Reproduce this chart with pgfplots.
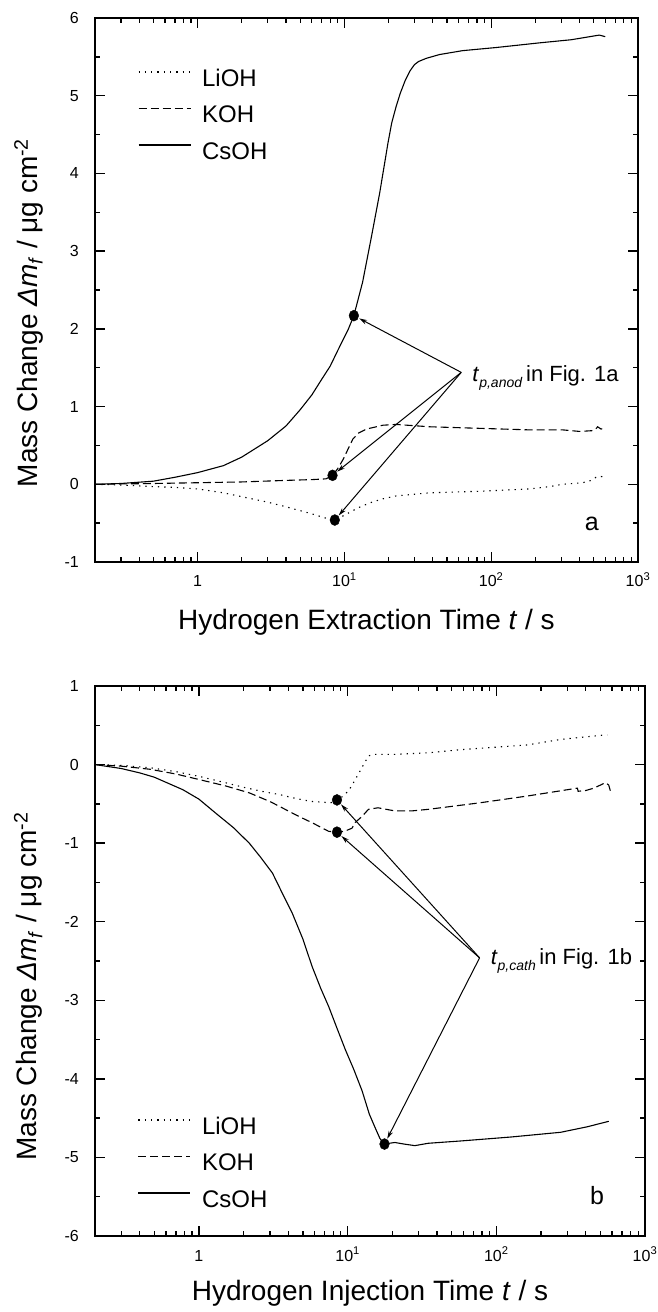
\documentclass[border=0pt]{standalone}
\usepackage{fontspec}
\setmainfont{Liberation Sans}
\usepackage{pgfplots}
\pgfplotsset{compat=1.18}
\usetikzlibrary{arrows.meta}
\newcommand{\fs}[1]{\fontsize{#1}{#1}\selectfont}

% ---------- data: panel a (hydrogen extraction) ----------
\pgfplotstableread{
t v
0.2 0
0.3 -0.01
0.5 -0.03
0.7 -0.04
1 -0.06
1.5 -0.11
2 -0.16
3 -0.23
4 -0.29
5 -0.34
6 -0.38
7 -0.42
8 -0.45
8.6 -0.46
9.5 -0.42
10.9 -0.36
12.5 -0.30
14.9 -0.24
18 -0.19
22.5 -0.15
38 -0.11
83 -0.09
182 -0.06
250 -0.03
307 0.0
420 0.02
480 0.05
518 0.09
560 0.10
590 0.09
605 0.07
}\aLiOH
\pgfplotstableread{
t v
0.2 0
0.5 0.01
1 0.02
2 0.03
4 0.05
6 0.06
7.5 0.07
8.3 0.115
9 0.2
9.8 0.32
11.4 0.58
12.5 0.66
14.1 0.71
18.3 0.76
22.5 0.77
38 0.74
83 0.72
182 0.70
307 0.70
400 0.68
491 0.69
520 0.72
531 0.74
560 0.71
598 0.73
}\aKOH
\pgfplotstableread{
t v
0.2 0
0.3 0.01
0.5 0.04
0.7 0.09
1 0.15
1.5 0.24
2 0.35
3 0.56
4 0.75
5 0.96
6 1.15
7 1.35
8 1.52
9 1.72
10.6 1.99
11.6 2.17
13.3 2.6
15.3 3.19
17.4 3.75
19.8 4.39
21 4.65
22.5 4.86
24 5.03
26 5.20
28 5.32
30 5.40
32 5.44
36 5.48
44.5 5.53
64 5.58
108 5.62
213 5.68
350 5.72
545 5.78
598 5.76
}\aCsOH

% ---------- data: panel b (hydrogen injection) ----------
\pgfplotstableread{
t v
0.2 0
0.3 -0.01
0.47 -0.04
0.7 -0.09
1.0 -0.15
1.5 -0.23
2 -0.29
2.8 -0.35
3.46 -0.38
4 -0.41
5 -0.45
5.77 -0.47
7 -0.48
7.46 -0.49
8.48 -0.47
9.3 -0.40
10.2 -0.33
11.9 -0.11
13.8 0.11
14.9 0.13
20.8 0.13
35 0.15
58 0.19
162 0.25
271 0.32
557 0.38
}\bLiOH
\pgfplotstableread{
t v
0.2 0
0.3 -0.02
0.47 -0.06
0.7 -0.12
1.0 -0.19
1.5 -0.27
2.18 -0.36
3 -0.47
3.46 -0.53
4.7 -0.66
5.77 -0.74
7.46 -0.85
8.48 -0.86
9.5 -0.85
10.7 -0.81
11.2 -0.74
12.5 -0.66
13.8 -0.57
16 -0.55
20.8 -0.59
26.9 -0.59
34.8 -0.57
75.2 -0.49
162 -0.40
351 -0.30
355 -0.34
400 -0.33
453 -0.30
543 -0.23
570 -0.26
590 -0.36
}\bKOH
\pgfplotstableread{
t v
0.2 0
0.3 -0.05
0.4 -0.106
0.5 -0.16
0.78 -0.32
1.0 -0.44
1.3 -0.62
1.7 -0.80
2.18 -1.0
2.6 -1.18
3.12 -1.38
3.6 -1.62
4.24 -1.89
5.0 -2.22
5.77 -2.57
6.6 -2.85
7.46 -3.08
8.5 -3.36
9.66 -3.63
11 -3.88
12.5 -4.15
14 -4.45
15.3 -4.62
16.5 -4.76
17.7 -4.83
19 -4.82
20.8 -4.81
24 -4.83
28.3 -4.85
34.8 -4.82
58.1 -4.79
125.6 -4.74
271 -4.68
409 -4.61
571 -4.54
}\bCsOH

\tikzset{
  lio/.style={black, line width=1.1pt, dash pattern=on 1.3pt off 5pt},
  koh/.style={black, line width=1.1pt, dash pattern=on 8pt off 4pt},
  cso/.style={black, line width=1.1pt},
  arr/.style={line width=1pt, -{Stealth[length=8pt,width=4.5pt]}, shorten >=6pt},
}

\begin{document}
\begin{tikzpicture}
\path[use as bounding box] (0pt,0pt) rectangle (658pt,1312pt);

% ---------------- panel a ----------------
\begin{semilogxaxis}[
  scale only axis,
  at={(95pt,750pt)}, anchor=south west,
  width=543pt, height=544pt,
  xmin=0.2, xmax=1000,
  ymin=-1, ymax=6,
  xtick={1,10,100,1000},
  xticklabels={1,10\textsuperscript{1},10\textsuperscript{2},10\textsuperscript{3}},
  minor xtick={0.2,0.3,0.4,0.5,0.6,0.7,0.8,0.9,2,3,4,5,6,7,8,9,20,30,40,50,60,70,80,90,200,300,400,500,600,700,800,900},
  ytick={-1,0,1,2,3,4,5,6},
  yticklabels={-1,0,1,2,3,4,5,6},
  minor ytick={-0.5,0.5,1.5,2.5,3.5,4.5,5.5},
  tick align=inside,
  major tick length=10pt, minor tick length=5pt,
  every tick/.style={black, line width=1.3pt},
  axis line style={line width=1.8pt},
  xticklabel style={font=\fs{16}, inner sep=0pt, anchor=base, yshift=-25pt},
  yticklabel style={font=\fs{16}, inner sep=0pt, anchor=east, xshift=-16pt},
  xlabel={Hydrogen Extraction Time \textit{t} / s},
  xlabel style={font=\fs{28}, at={(axis description cs:0.5,-0.1232)}, anchor=base},
  ylabel={Mass Change \textit{Δm}\textsubscript{\textit{f}} / μg cm\textsuperscript{-2}},
  ylabel style={font=\fs{28}, at={(axis description cs:-0.1068,0.458)}, anchor=base, rotate=0},
  legend style={draw=none, fill=none, inner sep=0pt, outer sep=0pt,
    font=\fs{24}, row sep=8.5pt, column sep=11pt,
    nodes={inner sep=0pt, text height=17pt, text depth=5pt},
    at={(axis description cs:0.0792,0.9164)}, anchor=north west},
  legend cell align=left,
  legend image code/.code={\path[draw=none, fill=none] (0pt,0pt) rectangle (52pt,17pt); \draw[#1] (0pt,8.5pt) -- (52pt,8.5pt);},
]
\addplot[lio] table[x=t,y=v] {\aLiOH};
\addlegendentry{LiOH}
\addplot[koh] table[x=t,y=v] {\aKOH};
\addlegendentry{KOH}
\addplot[cso] table[x=t,y=v] {\aCsOH};
\addlegendentry{CsOH}
\addplot[only marks, mark=*, mark size=5.5pt, mark options={black, xscale=0.88}, forget plot] coordinates {(11.6,2.17) (8.3,0.115) (8.6,-0.46)};
\draw[arr] (axis cs:62.5,1.44) -- (axis cs:11.6,2.17);
\draw[arr] (axis cs:62.5,1.44) -- (axis cs:8.3,0.115);
\draw[arr] (axis cs:62.5,1.44) -- (axis cs:8.6,-0.46);
\node[anchor=base west, inner sep=0pt, xshift=11pt, yshift=-9pt, font=\fs{22}] at (axis cs:62.5,1.44)
  {\textit{t}\raisebox{-6pt}{\fs{14}\textit{p,anod}}\,in Fig. 1a};
\node[anchor=base west, inner sep=0pt, font=\fs{25}] at (axis description cs:0.902,0.0588) {a};
\end{semilogxaxis}

% ---------------- panel b ----------------
\begin{semilogxaxis}[
  scale only axis,
  at={(95pt,76pt)}, anchor=south west,
  width=550pt, height=550pt,
  xmin=0.2, xmax=1000,
  ymin=-6, ymax=1,
  xtick={1,10,100,1000},
  xticklabels={1,10\textsuperscript{1},10\textsuperscript{2},10\textsuperscript{3}},
  minor xtick={0.2,0.3,0.4,0.5,0.6,0.7,0.8,0.9,2,3,4,5,6,7,8,9,20,30,40,50,60,70,80,90,200,300,400,500,600,700,800,900},
  ytick={-6,-5,-4,-3,-2,-1,0,1},
  yticklabels={-6,-5,-4,-3,-2,-1,0,1},
  minor ytick={-5.5,-4.5,-3.5,-2.5,-1.5,-0.5,0.5},
  tick align=inside,
  major tick length=10pt, minor tick length=5pt,
  every tick/.style={black, line width=1.3pt},
  axis line style={line width=1.8pt},
  xticklabel style={font=\fs{16}, inner sep=0pt, anchor=base, yshift=-25pt},
  yticklabel style={font=\fs{16}, inner sep=0pt, anchor=east, xshift=-16pt},
  xlabel={Hydrogen Injection Time \textit{t} / s},
  xlabel style={font=\fs{28}, at={(axis description cs:0.5,-0.1164)}, anchor=base},
  ylabel={Mass Change \textit{Δm}\textsubscript{\textit{f}} / μg cm\textsuperscript{-2}},
  ylabel style={font=\fs{28}, at={(axis description cs:-0.106,0.4536)}, anchor=base, rotate=0},
  legend style={draw=none, fill=none, inner sep=0pt, outer sep=0pt,
    font=\fs{24}, row sep=8.5pt, column sep=11pt,
    nodes={inner sep=0pt, text height=17pt, text depth=5pt},
    at={(axis description cs:0.078,0.2264)}, anchor=north west},
  legend cell align=left,
  legend image code/.code={\path[draw=none, fill=none] (0pt,0pt) rectangle (52pt,17pt); \draw[#1] (0pt,8.5pt) -- (52pt,8.5pt);},
]
\addplot[lio] table[x=t,y=v] {\bLiOH};
\addlegendentry{LiOH}
\addplot[koh] table[x=t,y=v] {\bKOH};
\addlegendentry{KOH}
\addplot[cso] table[x=t,y=v] {\bCsOH};
\addlegendentry{CsOH}
\addplot[only marks, mark=*, mark size=5.5pt, mark options={black, xscale=0.88}, forget plot] coordinates {(8.48,-0.45) (8.48,-0.86) (17.7,-4.83)};
\draw[arr] (axis cs:77.2,-2.46) -- (axis cs:8.48,-0.45);
\draw[arr] (axis cs:77.2,-2.46) -- (axis cs:8.48,-0.86);
\draw[arr] (axis cs:77.2,-2.46) -- (axis cs:17.7,-4.83);
\node[anchor=base west, inner sep=0pt, xshift=11pt, yshift=-7pt, font=\fs{22}] at (axis cs:77.2,-2.46)
  {\textit{t}\raisebox{-6pt}{\fs{14}\textit{p,cath}}\,in Fig. 1b};
\node[anchor=base west, inner sep=0pt, font=\fs{25}] at (axis description cs:0.9,0.0564) {b};
\end{semilogxaxis}
\end{tikzpicture}
\end{document}
